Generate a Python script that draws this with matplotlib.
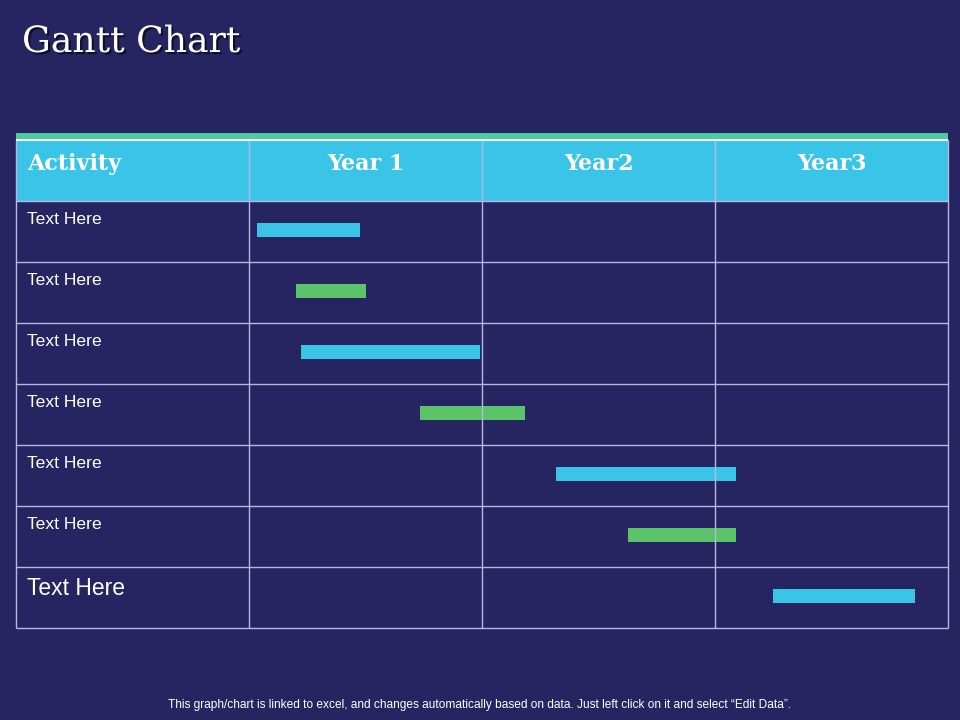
import matplotlib.pyplot as plt
import matplotlib.patheffects as pe

# Gantt data, in months from the start of Year 1
activities = ["Text Here"] * 7
starts = [0.4, 2.4, 2.7, 8.8, 15.8, 19.5, 27.0]
ends = [5.7, 6.0, 11.9, 14.2, 25.1, 25.1, 34.3]
years = ["Year 1", "Year2", "Year3"]
header_first = "Activity"

BG = '#262561'
CYAN = '#3AC5E8'
GREEN = '#5BC469'
GRID = '#B9B6E2'
bar_colors = [CYAN if i % 2 == 0 else GREEN for i in range(len(starts))]

fig = plt.figure(figsize=(9.6, 7.2), dpi=100, facecolor=BG)

# title and footer
fig.text(22 / 960, 1 - 42 / 720, "Gantt Chart", family='DejaVu Serif', fontsize=26,
         color='white', va='center', ha='left',
         path_effects=[pe.SimplePatchShadow(offset=(1.5, -1.5), shadow_rgbFace='black', alpha=0.6),
                       pe.Normal()])
fig.text(0.5, 1 - 705 / 720,
         "This graph/chart is linked to excel, and changes automatically based on data. "
         "Just left click on it and select \u201cEdit Data\u201d.",
         family='Liberation Sans', fontsize=8.6, color='white', ha='center', va='center')

# table axes: x in months (activity column = -12..0), y in rows (header = -1..0)
left, right, top, bottom = 16, 948, 133, 628
ax = fig.add_axes([left / 960, 1 - bottom / 720, (right - left) / 960, (bottom - top) / 720])
ax.set_facecolor(BG)
n = len(activities)
strip = 7 / 61
ax.set_xlim(-12, 36)
ax.set_ylim(n, -1 - strip)
ax.axis('off')

ax.axhspan(-1 - strip, -1, color='#4FC8A4', lw=0)
ax.axhspan(-1, 0, color=CYAN, lw=0)

ax.hlines(range(-1, n + 1), -12, 36, color=GRID, lw=1, clip_on=False)
ax.vlines([-12, 0, 12, 24, 36], -1, n, color=GRID, lw=1, clip_on=False)
ax.hlines(-1, -12, 36, color='white', lw=1.2, clip_on=False)

# header text
hdr = dict(family='DejaVu Serif', fontsize=16, fontweight='bold', color='white', va='baseline')
ax.text(-12 + 0.55, -0.51, header_first, ha='left', **hdr)
for k, y in enumerate(years):
    ax.text(k * 12 + 6, -0.51, y, ha='center', **hdr)

# activity labels
for i, a in enumerate(activities):
    big = i == n - 1
    ax.text(-12 + 0.55, i + (0.46 if big else 0.375), a, family='Liberation Sans',
            fontsize=16.5 if big else 12.6, color='white', ha='left', va='baseline')

# bars
widths = [e - s for s, e in zip(starts, ends)]
ax.barh([i + 0.47 for i in range(n)], widths, left=starts, height=0.23,
        color=bar_colors, lw=0)

fig.savefig('out.png', dpi=100, facecolor=BG)
